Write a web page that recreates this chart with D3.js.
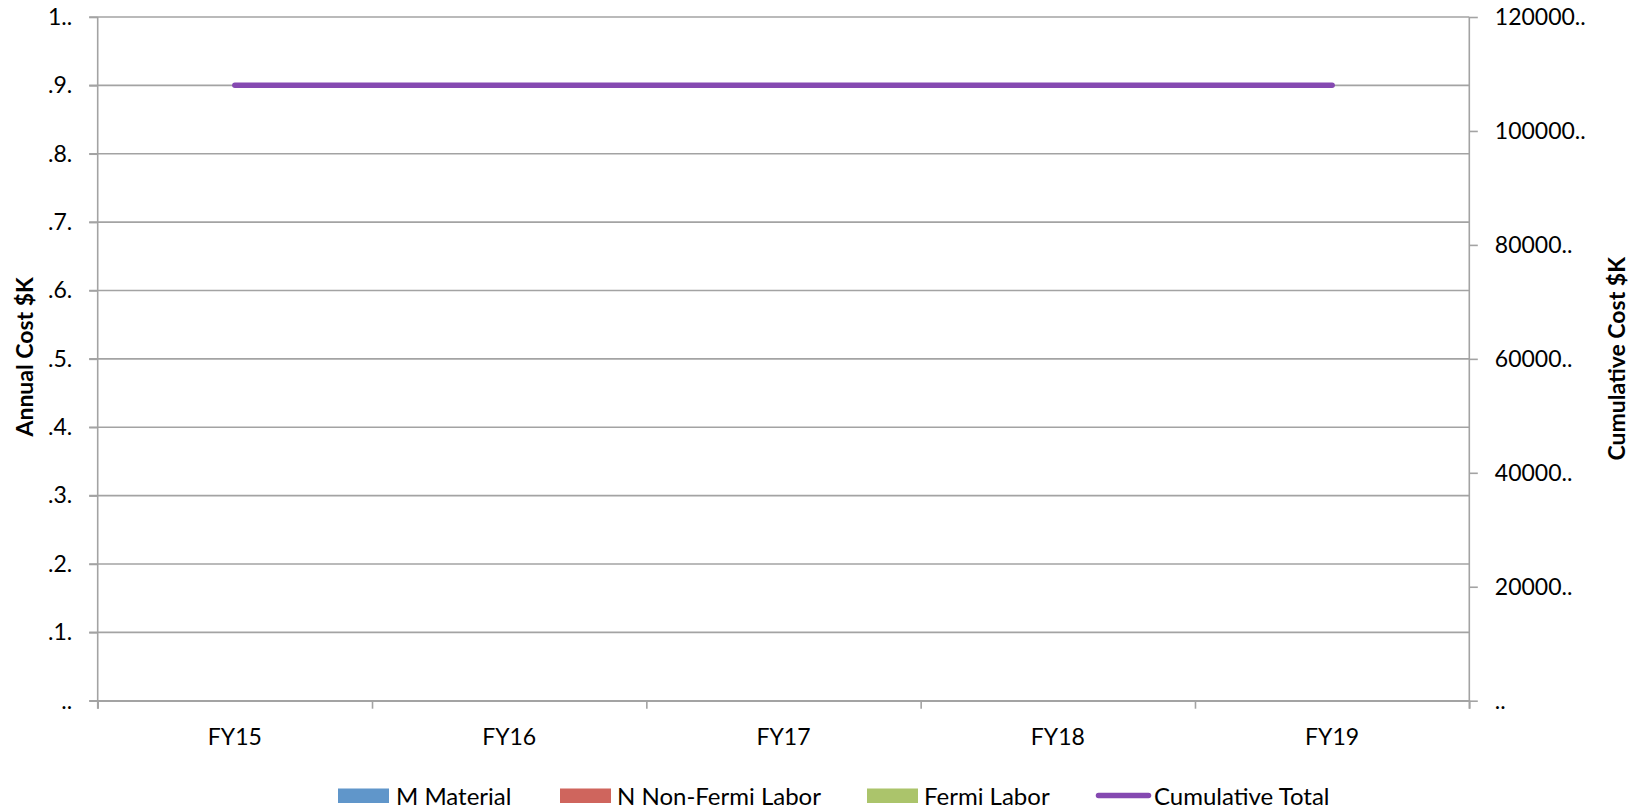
<!DOCTYPE html>
<html>
<head>
<meta charset="utf-8">
<script src="https://cdn.jsdelivr.net/npm/d3@7"></script>
<style>
  html, body { margin: 0; padding: 0; background: #ffffff; }
  svg { display: block; font-family: Lato, "Open Sans", sans-serif; }
</style>
</head>
<body>
<svg id="chart" width="1641" height="812"></svg>
<script>
// Fiscal years on the category axis
const categories = ["FY15", "FY16", "FY17", "FY18", "FY19"];

// Annual cost components ($K), stacked per year
const material = [0, 0, 0, 0, 0];
const nonFermiLabor = [0, 0, 0, 0, 0];
const fermiLabor = [0, 0, 0, 0, 0];

// Running total ($K), plotted on the secondary axis
const cumulativeTotal = [108000, 108000, 108000, 108000, 108000];

// Axis ticks and their printed labels
const leftTickValues = [0, 0.1, 0.2, 0.3, 0.4, 0.5, 0.6, 0.7, 0.8, 0.9, 1.0];
const leftTickLabels = ["..", ".1.", ".2.", ".3.", ".4.", ".5.", ".6.", ".7.", ".8.", ".9.", "1.."];
const rightTickValues = [0, 20000, 40000, 60000, 80000, 100000, 120000];
const rightTickLabels = ["..", "20000..", "40000..", "60000..", "80000..", "100000..", "120000.."];

const seriesNames = ["M Material", "N Non-Fermi Labor", "Fermi Labor", "Cumulative Total"];
const seriesColors = ["#6096ca", "#cf655d", "#abc46b", "#8549b1"];

const svg = d3.select("#chart");
const plot = { left: 97.7, right: 1469.3, top: 17, bottom: 700.7 };
const gridColor = "#a3a3a3";

const x = d3.scaleBand().domain(categories).range([plot.left, plot.right]).paddingInner(0.5).paddingOuter(0.25);
const yLeft = d3.scaleLinear().domain([0, 1]).range([plot.bottom, plot.top]);
const yRight = d3.scaleLinear().domain([0, 120000]).range([plot.bottom, plot.top]);

// Horizontal gridlines at each primary tick
svg.append("g")
  .selectAll("line")
  .data(leftTickValues)
  .join("line")
  .attr("x1", plot.left - 8.5)
  .attr("x2", plot.right)
  .attr("y1", d => yLeft(d))
  .attr("y2", d => yLeft(d))
  .attr("stroke", gridColor)
  .attr("stroke-width", 1.6);

// Stacked bars (all components)
const stackData = categories.map((c, i) => ({
  cat: c, material: material[i], nonFermi: nonFermiLabor[i], fermi: fermiLabor[i]
}));
const stack = d3.stack().keys(["material", "nonFermi", "fermi"])(stackData);
svg.append("g")
  .selectAll("g")
  .data(stack)
  .join("g")
  .attr("fill", (d, i) => seriesColors[i])
  .selectAll("rect")
  .data(d => d)
  .join("rect")
  .attr("x", d => x(d.data.cat))
  .attr("width", x.bandwidth())
  .attr("y", d => yLeft(d[1]))
  .attr("height", d => yLeft(d[0]) - yLeft(d[1]));

// Left axis
const leftAxis = d3.axisLeft(yLeft)
  .tickValues(leftTickValues)
  .tickFormat((d, i) => leftTickLabels[i])
  .tickSizeInner(8.5)
  .tickSizeOuter(0)
  .tickPadding(17);
const gL = svg.append("g").attr("transform", `translate(${plot.left},0)`).call(leftAxis);

// Right axis
const rightAxis = d3.axisRight(yRight)
  .tickValues(rightTickValues)
  .tickFormat((d, i) => rightTickLabels[i])
  .tickSizeInner(8.5)
  .tickSizeOuter(0)
  .tickPadding(17);
const gR = svg.append("g").attr("transform", `translate(${plot.right},0)`).call(rightAxis);

// Category axis with ticks at band boundaries
const xEdges = d3.scaleLinear().domain([0, categories.length]).range([plot.left, plot.right]);
const bottomAxis = d3.axisBottom(xEdges)
  .tickValues(d3.range(categories.length + 1))
  .tickFormat("")
  .tickSizeInner(8)
  .tickSizeOuter(0);
const gB = svg.append("g").attr("transform", `translate(0,${plot.bottom})`).call(bottomAxis);

[gL, gR, gB].forEach(g => {
  g.selectAll(".domain").attr("stroke", gridColor).attr("stroke-width", 1.6);
  g.selectAll(".tick line").attr("stroke", gridColor).attr("stroke-width", 1.6);
  g.selectAll("text").attr("fill", "#000").style("font-size", "23px").style("font-family", "Lato, sans-serif");
});
gL.select(".domain").attr("d", `M0,${plot.top}V${plot.bottom + 8}`);
gR.select(".domain").attr("d", `M0,${plot.top}V${plot.bottom + 8}`);

// Category labels
svg.append("g")
  .selectAll("text")
  .data(categories)
  .join("text")
  .attr("x", d => x(d) + x.bandwidth() / 2)
  .attr("y", 745)
  .attr("text-anchor", "middle")
  .style("font-size", "23px")
  .text(d => d);

// Cumulative total line
const line = d3.line()
  .x((d, i) => x(categories[i]) + x.bandwidth() / 2)
  .y(d => yRight(d));
svg.append("path")
  .datum(cumulativeTotal)
  .attr("d", line)
  .attr("fill", "none")
  .attr("stroke", seriesColors[3])
  .attr("stroke-width", 5.5)
  .attr("stroke-linecap", "round")
  .attr("stroke-linejoin", "round");

// Axis titles
svg.append("text")
  .attr("transform", `translate(33,${(plot.top + plot.bottom) / 2 - 2}) rotate(-90)`)
  .attr("text-anchor", "middle")
  .style("font-size", "23px")
  .style("font-weight", "bold")
  .text("Annual Cost $K");
svg.append("text")
  .attr("transform", `translate(1625,${(plot.top + plot.bottom) / 2}) rotate(-90)`)
  .attr("text-anchor", "middle")
  .style("font-size", "23px")
  .style("font-weight", "bold")
  .text("Cumulative Cost $K");

// Legend
const legendItems = [
  { name: seriesNames[0], color: seriesColors[0], kind: "rect", x: 338, tx: 396 },
  { name: seriesNames[1], color: seriesColors[1], kind: "rect", x: 560, tx: 617 },
  { name: seriesNames[2], color: seriesColors[2], kind: "rect", x: 867, tx: 924 },
  { name: seriesNames[3], color: seriesColors[3], kind: "line", x: 1096, tx: 1154 }
];
const legend = svg.append("g");
legendItems.forEach(item => {
  if (item.kind === "rect") {
    legend.append("rect")
      .attr("x", item.x).attr("y", 788.5)
      .attr("width", 51).attr("height", 14.5)
      .attr("fill", item.color);
  } else {
    legend.append("line")
      .attr("x1", item.x + 2.5).attr("x2", item.x + 52.5)
      .attr("y1", 795.5).attr("y2", 795.5)
      .attr("stroke", item.color)
      .attr("stroke-width", 5.5)
      .attr("stroke-linecap", "round");
  }
  legend.append("text")
    .attr("x", item.tx).attr("y", 804.5)
    .style("font-size", "24px")
    .text(item.name);
});
</script>
</body>
</html>
